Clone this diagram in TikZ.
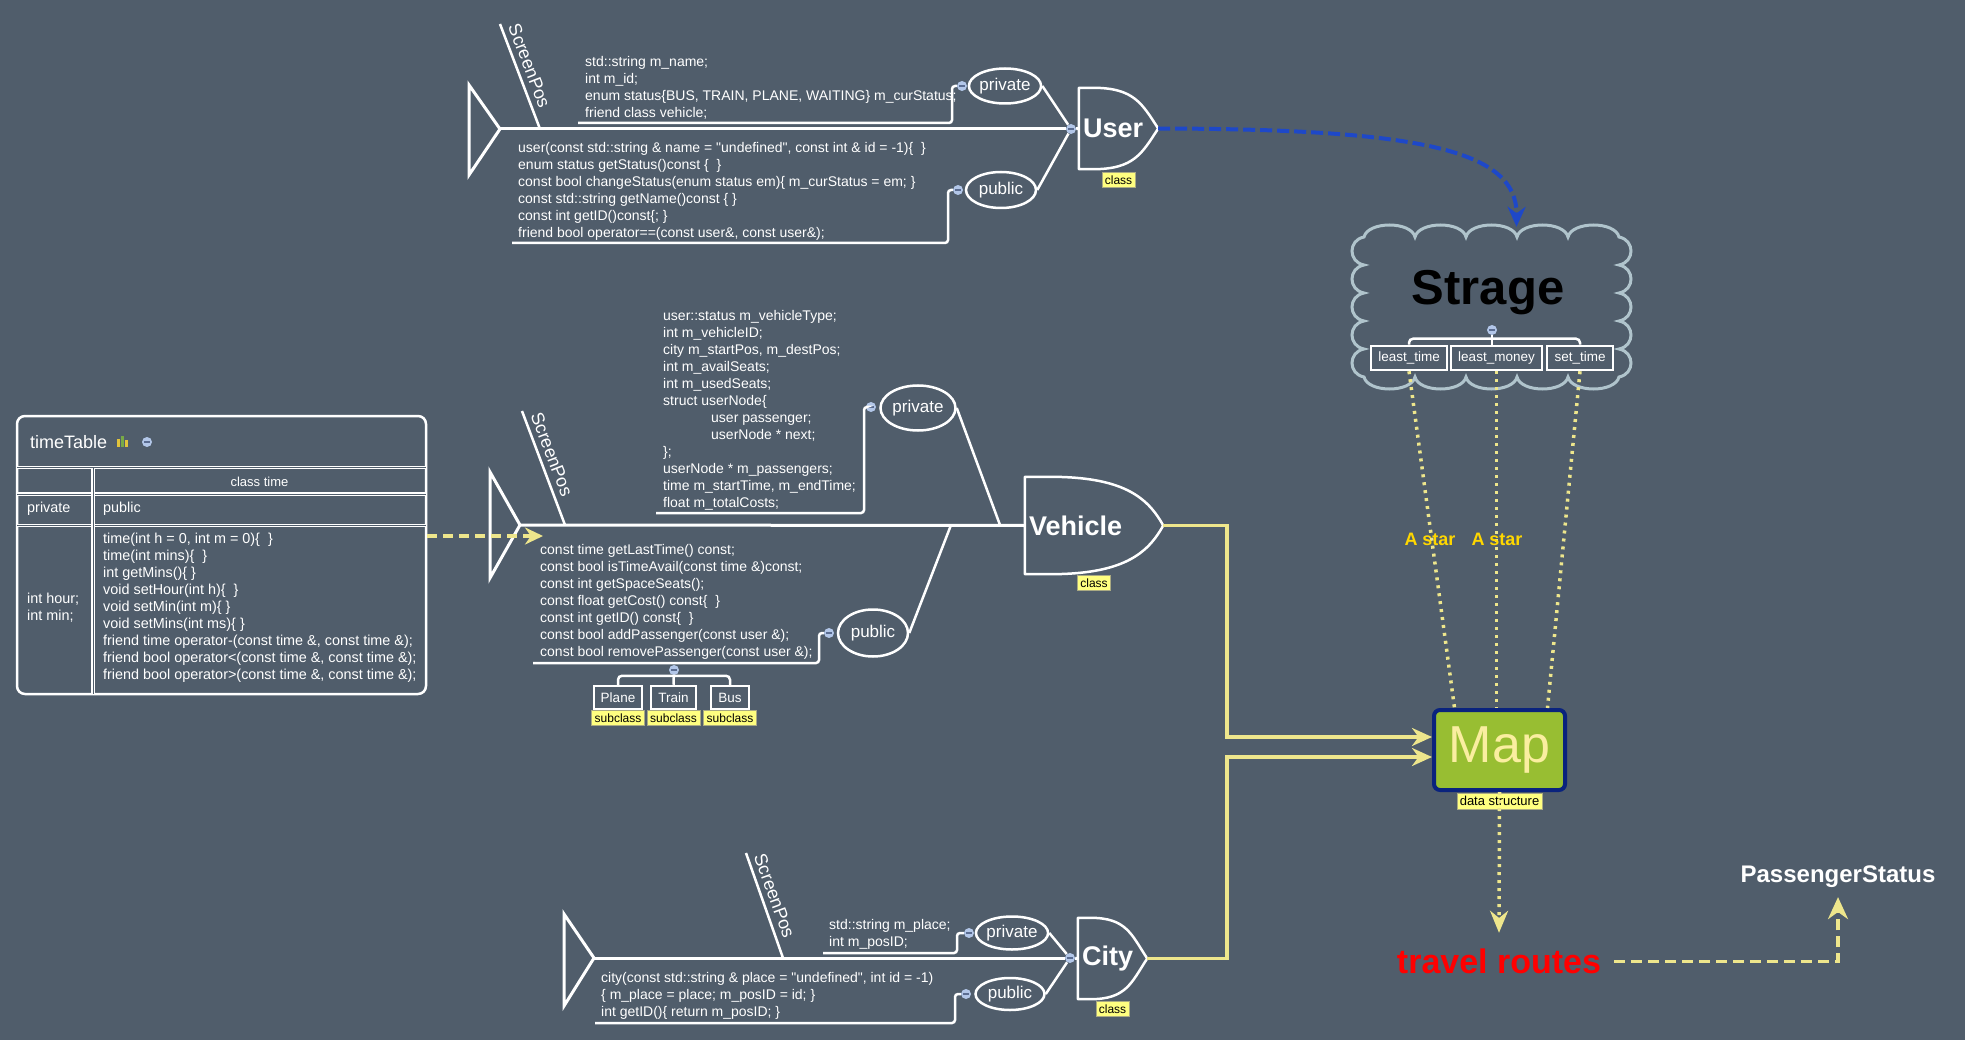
\documentclass[tikz,border=0pt]{standalone}
\usepackage{fontspec}
\setmainfont{Liberation Sans}[Ligatures=TeXOff]
\usetikzlibrary{positioning,shapes.geometric,arrows.meta,calc}

\definecolor{bgslate}{RGB}{80,93,107}
\definecolor{khaki}{RGB}{238,230,140}
\definecolor{tagyellow}{RGB}{255,255,128}
\definecolor{taggrey}{RGB}{170,170,130}
\definecolor{dotblue}{RGB}{178,198,232}
\definecolor{foldmark}{RGB}{90,108,145}
\definecolor{routeblue}{RGB}{30,72,200}
\definecolor{cloudgrey}{RGB}{176,196,204}
\definecolor{mapgreen}{RGB}{152,190,50}
\definecolor{mapnavy}{RGB}{10,35,125}
\definecolor{maptext}{RGB}{250,238,160}
\definecolor{stargold}{RGB}{255,215,0}
\definecolor{iconyellow}{RGB}{225,195,60}
\definecolor{icongreen}{RGB}{120,170,70}

\tikzset{
  spine/.style={white, line width=3pt},
  bone/.style={white, line width=2.5pt},
  code/.style={text=white, font=\fontsize{14}{17}\selectfont, align=left, inner sep=0pt, anchor=north west},
  cell/.style={code, font=\fontsize{14.4}{17}\selectfont},
  screenpos/.style={text=white, font=\fontsize{18}{18}\selectfont, anchor=south, inner xsep=1pt, inner ysep=5pt},
  access/.style={ellipse, draw=white, line width=2.5pt, text=white, font=\fontsize{17}{17}\selectfont, inner sep=0pt},
  fold/.style={circle, fill=dotblue, minimum size=10pt, inner sep=0pt,
    path picture={\draw[foldmark, line width=1.3pt] ([xshift=-2.6pt]path picture bounding box.center) -- ([xshift=2.6pt]path picture bounding box.center);}},
  classbox/.style={text=white, font=\bfseries\fontsize{27}{27}\selectfont, align=left, inner xsep=4pt, inner ysep=0pt,
    append after command={\pgfextra{\let\clsnode\tikzlastnode
      \draw[white, line width=2.5pt, line join=round] (\clsnode.north west)
        -- ($(\clsnode.north west)!0.18!(\clsnode.north east)$)
        .. controls ($(\clsnode.north west)!0.7!(\clsnode.north east)$)
        and ($(\clsnode.north east)!0.4!(\clsnode.east)+(-16,0)$) .. (\clsnode.east)
        .. controls ($(\clsnode.south east)!0.4!(\clsnode.east)+(-16,0)$)
        and ($(\clsnode.south west)!0.7!(\clsnode.south east)$) .. ($(\clsnode.south west)!0.18!(\clsnode.south east)$)
        -- (\clsnode.south west) -- cycle;}}},
  tag/.style={fill=tagyellow, draw=taggrey, text=black, font=\fontsize{12}{12}\selectfont, inner xsep=3pt, inner ysep=3pt},
  subbox/.style={draw=white, line width=2.5pt, text=white, font=\fontsize{13.5}{13.5}\selectfont, inner sep=0pt, minimum height=23pt},
  route/.style={khaki, line width=3.5pt, -{Stealth[length=20pt, width=18pt]}},
  astar/.style={khaki, line width=3.5pt, dash pattern=on 3pt off 5pt},
  tablerule/.style={white, line width=1.2pt, double=bgslate, double distance=0.9pt},
}

\begin{document}
\begin{tikzpicture}[x=1pt, y=-1pt]
\fill[bgslate] (0,0) rectangle (1965,1040);
\useasboundingbox (0,0) rectangle (1965,1040);

% time table
\node[draw=white, line width=2.5pt, rounded corners=8pt, minimum width=409pt, minimum height=278pt] (timetable) at (221.5,555) {};
\node[anchor=west, text=white, font=\fontsize{18}{18}\selectfont, inner sep=0pt] (tt title) at (30,442) {timeTable};
\fill[iconyellow] (117,439) rectangle (120,447);
\fill[icongreen] (121,436) rectangle (124,447);
\fill[iconyellow] (125,440) rectangle (128,447);
\node[fold] (tt fold) at (147,442) {};
\draw[tablerule] (17,467.5) -- (426,467.5);
\draw[tablerule] (17,494) -- (426,494);
\draw[tablerule] (17,525.5) -- (426,525.5);
\draw[tablerule] (93,467.5) -- (93,694);
\node[text=white, font=\fontsize{13}{13}\selectfont, inner sep=0pt] (tt head) at (259.5,482) {class time};
\node[cell, anchor=west] (tt private) at (27,509) {private};
\node[cell, anchor=west] (tt public) at (103,509) {public};
\node[cell] (tt fields) at (27,593) {int hour;\\int min;};
\node[cell] (tt methods) at (103,533) {time(int h = 0, int m = 0)\{\ \ \}\\time(int mins)\{\ \ \}\\int getMins()\{ \}\\void setHour(int h)\{\ \ \}\\void setMin(int m)\{ \}\\void setMins(int ms)\{ \}\\friend time operator-(const time \&, const time \&);\\friend bool operator<(const time \&, const time \&);\\friend bool operator>(const time \&, const time \&);};

% user
\draw[spine] (469,85) -- (500,129) -- (469,175) -- cycle;
\coordinate (user tail) at (500,129);
\node[classbox, text width=71pt, minimum height=81pt] (user) at (1118.5,128.5) {User};
\node[tag, below=3pt of user] (user tag) {class};
\node[fold] (user joint) at (1071,129) {};
\draw[spine] (user tail) -- (user joint);
\draw[spine] (user joint) -- (user.west);
\draw[bone] (500,24) -- (540,129) node[screenpos, pos=0.44, rotate=-69] {ScreenPos};
\node[code] (user priv) at (585,56) {std::string m\_name;\\int m\_id;\\enum status\{BUS, TRAIN, PLANE, WAITING\} m\_curStatus;\\friend class vehicle;};
\node[fold] (user priv fold) at (962,86) {};
\node[access, minimum width=70pt, minimum height=35pt] (user private) at (1005,86) {private};
\draw[bone, rounded corners=3pt] (578,123) -| ([xshift=-10pt]user priv fold.center) -- (user priv fold);
\draw[bone] (user private.east) -- (user joint);
\node[code] (user pub) at (518,142) {user(const std::string \& name = "undefined", const int \& id = -1)\{\ \ \}\\enum status getStatus()const \{\ \ \}\\const bool changeStatus(enum status em)\{ m\_curStatus = em; \}\\const std::string getName()const \{ \}\\const int getID()const\{; \}\\friend bool operator==(const user\&, const user\&);};
\node[fold] (user pub fold) at (958,190) {};
\node[access, minimum width=70pt, minimum height=36pt] (user public) at (1001,190) {public};
\draw[bone, rounded corners=3pt] (512,243) -| ([xshift=-10pt]user pub fold.center) -- (user pub fold);
\draw[bone] (user public.east) -- (user joint);

% vehicle
\draw[spine] (490,472) -- (520,525) -- (490,578) -- cycle;
\coordinate (veh tail) at (520,525);
\node[classbox, text width=130pt, minimum height=97pt] (vehicle) at (1094,525.5) {Vehicle};
\node[tag, below=1pt of vehicle] (vehicle tag) {class};
\draw[spine] (veh tail) -- (vehicle.west);
\draw[bone] (522,411) -- (565,525) node[screenpos, pos=0.42, rotate=-69] {ScreenPos};
\node[code] (veh priv) at (663,310) {user::status m\_vehicleType;\\int m\_vehicleID;\\city m\_startPos, m\_destPos;\\int m\_availSeats;\\int m\_usedSeats;\\struct userNode\{\\\hspace*{48pt}user passenger;\\\hspace*{48pt}userNode * next;\\\};\\userNode * m\_passengers;\\time m\_startTime, m\_endTime;\\float m\_totalCosts;};
\node[fold] (veh priv fold) at (871,407) {};
\node[access, minimum width=75pt, minimum height=45pt] (veh private) at (918,408) {private};
\draw[bone, rounded corners=3pt] (656,513) -| ([xshift=-7pt]veh priv fold.center) -- (veh priv fold);
\coordinate (veh j1) at (1000,525);
\draw[bone] (veh private.east) -- (veh j1);
\node[code] (veh pub) at (540,544) {const time getLastTime() const;\\const bool isTimeAvail(const time \&)const;\\const int getSpaceSeats();\\const float getCost() const\{\ \ \}\\const int getID() const\{\ \ \}\\const bool addPassenger(const user \&);\\const bool removePassenger(const user \&);};
\node[fold] (veh pub fold) at (829,633) {};
\node[access, minimum width=70pt, minimum height=47pt] (veh public) at (873,633) {public};
\draw[bone, rounded corners=3pt] (533,663) -| ([xshift=-10pt]veh pub fold.center) -- (veh pub fold);
\coordinate (veh j2) at (951,525);
\draw[bone] (veh public.east) -- (veh j2);
\node[fold] (veh sub fold) at (674,670) {};
\node[subbox, minimum width=48pt] (plane) at (618,697.5) {Plane};
\node[subbox, minimum width=45pt] (train) at (673.5,697.5) {Train};
\node[subbox, minimum width=38pt] (bus) at (730,697.5) {Bus};
\draw[bone, rounded corners=4pt] (plane.north) -- ([yshift=9pt]plane.north) -- ([yshift=9pt]bus.north) -- (bus.north);
\draw[bone] (veh sub fold) -- (train.north);
\node[tag, below=0pt of plane] (plane tag) {subclass};
\node[tag, below=0pt of train] (train tag) {subclass};
\node[tag, below=0pt of bus] (bus tag) {subclass};
\coordinate (veh in) at (543,536);
\draw[khaki, line width=4pt, dash pattern=on 10pt off 6pt, -{Stealth[length=18pt, width=17pt]}] ([yshift=19pt]timetable.east) -- (veh in);

% city
\draw[spine] (564,914) -- (594,958) -- (564,1006) -- cycle;
\coordinate (city tail) at (594,958);
\node[classbox, text width=61pt, minimum height=81pt] (city) at (1112.5,958.5) {City};
\node[tag, below=2pt of city] (city tag) {class};
\node[fold] (city joint) at (1070,958) {};
\draw[spine] (city tail) -- (city joint);
\draw[spine] (city joint) -- (city.west);
\draw[bone] (746,853) -- (783,958) node[screenpos, pos=0.45, rotate=-70] {ScreenPos};
\node[code] (city priv) at (829,919) {std::string m\_place;\\int m\_posID;};
\node[fold] (city priv fold) at (969,933) {};
\node[access, minimum width=71pt, minimum height=33pt] (city private) at (1012,933) {private};
\draw[bone, rounded corners=3pt] (823,953) -| ([xshift=-12pt]city priv fold.center) -- (city priv fold);
\draw[bone] (city private.east) -- (city joint);
\node[code] (city pub) at (601,972) {city(const std::string \& place = "undefined", int id = -1)\\\{ m\_place = place; m\_posID = id; \}\\int getID()\{ return m\_posID; \}};
\node[fold] (city pub fold) at (966,994) {};
\node[access, minimum width=69pt, minimum height=32pt] (city public) at (1010,994) {public};
\draw[bone, rounded corners=3pt] (595,1023) -| ([xshift=-11pt]city pub fold.center) -- (city pub fold);
\draw[bone] (city public.east) -- (city joint);

% strage cloud
\draw[cloudgrey, line width=3pt, fill=bgslate] (1364,237)
  \foreach \x in {1364,1415,1466,1517,1568} { .. controls (\x+4,221) and (\x+47,221) .. (\x+51,237) }
  \foreach \y in {237,265,293,321,349} { .. controls (1635,\y+3) and (1635,\y+25) .. (1619,\y+28) }
  \foreach \x in {1619,1568,1517,1466,1415} { .. controls (\x-4,393) and (\x-47,393) .. (\x-51,377) }
  \foreach \y in {377,349,321,293,265} { .. controls (1348,\y-3) and (1348,\y-25) .. (1364,\y-28) }
  -- cycle;
\node[minimum width=277pt, minimum height=160pt, inner sep=0pt] (strage) at (1491.5,307) {};
\node[text=black, font=\bfseries\fontsize{49}{49}\selectfont, inner sep=0pt] (strage title) at (1488,293) {Strage};
\node[subbox, minimum width=76pt, minimum height=24pt] (least time) at (1409,358) {least\_time};
\node[subbox, minimum width=91pt, minimum height=24pt] (least money) at (1496.5,358) {least\_money};
\node[subbox, minimum width=66pt, minimum height=24pt] (set time) at (1580,358) {set\_time};
\node[fold] (strage fold) at (1492,330) {};
\draw[bone, rounded corners=4pt] (least time.north) -- ([yshift=6pt]least time.north) -- ([yshift=6pt]set time.north) -- (set time.north);
\draw[bone] (strage fold) -- (strage fold |- least money.north);
\draw[routeblue, line width=4pt, dash pattern=on 12pt off 5pt, -{Stealth[length=20pt, width=18pt]}] (user.east) .. controls (1420,129) and (1517,150) .. ([xshift=25pt]strage.north);

% map and routes
\node[fill=mapgreen, draw=mapnavy, line width=4pt, rounded corners=6pt, minimum width=131pt, minimum height=80pt, inner sep=0pt, text=maptext, font=\fontsize{52}{52}\selectfont] (map) at (1499.5,750) {Map};
\node[tag, font=\fontsize{13}{13}\selectfont, below=1pt of map] (map tag) {data structure};
\node[text=red, font=\bfseries\fontsize{34}{34}\selectfont, inner sep=0pt] (travel) at (1499,961.5) {travel routes};
\node[text=white, font=\bfseries\fontsize{24}{24}\selectfont, inner sep=0pt] (passenger) at (1838,877) {PassengerStatus};
\draw[astar] (least time.south) -- ([xshift=-45pt]map.north);
\draw[astar] (least money.south) -- (least money.south |- map.north);
\draw[astar] (set time.south) -- ([xshift=48pt]map.north);
\node[text=stargold, font=\bfseries\fontsize{18}{18}\selectfont, inner sep=0pt] (astar left) at (1430,539) {A star};
\node[text=stargold, font=\bfseries\fontsize{18}{18}\selectfont, inner sep=0pt] (astar mid) at (1497,539) {A star};
\draw[route] (vehicle.east) -- ++(64,0) |- ([yshift=13pt]map.west);
\draw[route] (city.east) -- ++(80,0) |- ([yshift=-7pt]map.west);
\draw[astar, -{Stealth[length=22pt, width=18pt]}] (map.south) -- ([yshift=16pt]travel.north);
\draw[khaki, line width=3.5pt, dash pattern=on 11pt off 6pt, -{Stealth[length=22pt, width=20pt]}] ([xshift=13pt]travel.east) -| ([yshift=-9pt]passenger.south);
\end{tikzpicture}
\end{document}
